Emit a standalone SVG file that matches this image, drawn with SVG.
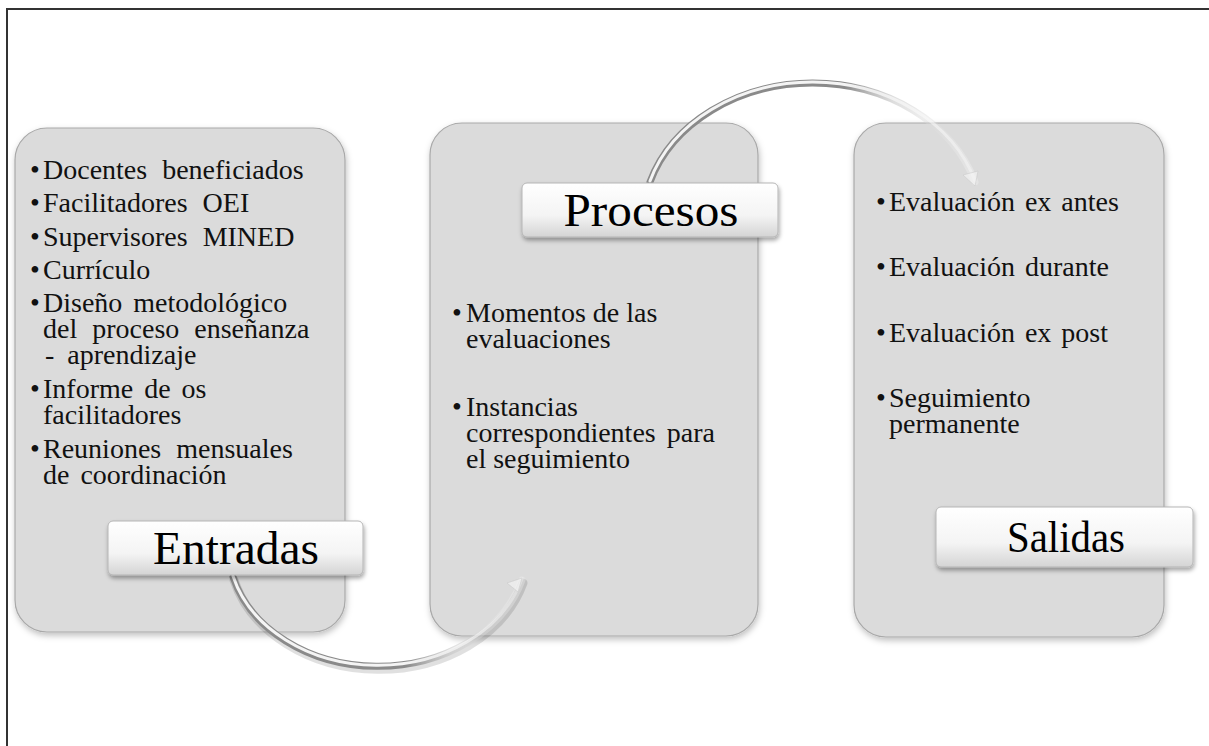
<svg xmlns="http://www.w3.org/2000/svg" width="1209" height="746" viewBox="0 0 1209 746">
<style>
.panel{fill:#dbdbdb;stroke:#a9a9a9;stroke-width:1.2}
.lbl{fill:url(#lblg);stroke:#b5b5b5;stroke-width:1}
text{font-family:"Liberation Serif","Times New Roman",serif}
.t{font-size:28px;fill:#111}
.w{word-spacing:8px}
.h{fill:#000;text-anchor:middle}
.frame{stroke:#333;stroke-width:2;fill:none}
</style>
<defs>
<linearGradient id="lblg" x1="0" y1="0" x2="0" y2="1">
<stop offset="0" stop-color="#ffffff"/>
<stop offset="0.6" stop-color="#f4f4f4"/>
<stop offset="1" stop-color="#d4d4d4"/>
</linearGradient>
<linearGradient id="fade1" x1="0" y1="0" x2="1" y2="0">
<stop offset="0" stop-color="#8a8a8a" stop-opacity="1"/>
<stop offset="0.6" stop-color="#8a8a8a" stop-opacity="1"/>
<stop offset="0.75" stop-color="#bdbdbd" stop-opacity="0.5"/>
<stop offset="1" stop-color="#ffffff" stop-opacity="0.25"/>
</linearGradient>
<linearGradient id="fade1h" x1="0" y1="0" x2="1" y2="0">
<stop offset="0" stop-color="#f4f4f4" stop-opacity="1"/>
<stop offset="0.6" stop-color="#f4f4f4" stop-opacity="1"/>
<stop offset="1" stop-color="#ffffff" stop-opacity="0.3"/>
</linearGradient>
<filter id="sh" x="-10%" y="-10%" width="125%" height="125%">
<feDropShadow dx="1" dy="3" stdDeviation="3" flood-color="#000" flood-opacity="0.25"/>
</filter>
<filter id="sh2" x="-10%" y="-20%" width="125%" height="150%">
<feDropShadow dx="1" dy="3" stdDeviation="2" flood-color="#000" flood-opacity="0.35"/>
</filter>
</defs>
<rect width="1209" height="746" fill="#fff"/>
<path class="frame" d="M7,746 V9 H1209"/>

<g id="panel-entradas">
<rect class="panel" x="15" y="128" width="330" height="504" rx="32" filter="url(#sh)"/>
<g class="t">
<text x="30" y="179">•</text><text class="w" x="43" y="179">Docentes beneficiados</text>
<text x="30" y="212">•</text><text class="w" x="43" y="212">Facilitadores OEI</text>
<text x="30" y="246">•</text><text class="w" x="43" y="246">Supervisores MINED</text>
<text x="30" y="279">•</text><text x="43" y="279">Currículo</text>
<text x="30" y="312">•</text><text x="43" y="312" word-spacing="4">Diseño metodológico</text>
<text class="w" x="43" y="338">del proceso enseñanza</text>
<text x="45" y="364" word-spacing="6">- aprendizaje</text>
<text x="30" y="398">•</text><text x="43" y="398" word-spacing="4">Informe de os</text>
<text x="43" y="424">facilitadores</text>
<text x="30" y="458">•</text><text class="w" x="43" y="458">Reuniones mensuales</text>
<text x="43" y="484" word-spacing="4">de coordinación</text>
</g>
</g>

<g id="panel-procesos">
<rect class="panel" x="430" y="123" width="328" height="513" rx="32" filter="url(#sh)"/>
<g class="t">
<text x="452" y="322">•</text><text x="466" y="322">Momentos de las</text>
<text x="466" y="348">evaluaciones</text>
<text x="452" y="416">•</text><text x="466" y="416">Instancias</text>
<text x="466" y="442" word-spacing="4">correspondientes para</text>
<text x="466" y="468">el seguimiento</text>
</g>
</g>

<g id="panel-salidas">
<rect class="panel" x="854" y="123" width="310" height="514" rx="32" filter="url(#sh)"/>
<g class="t">
<text x="876" y="211">•</text><text x="889" y="211" word-spacing="3">Evaluación ex antes</text>
<text x="876" y="276">•</text><text x="889" y="276" word-spacing="3">Evaluación durante</text>
<text x="876" y="342">•</text><text x="889" y="342" word-spacing="3">Evaluación ex post</text>
<text x="876" y="407">•</text><text x="889" y="407">Seguimiento</text>
<text x="889" y="433">permanente</text>
</g>
</g>

<g id="connectors">
<g fill="none" stroke-linecap="round">
<path d="M233,577 A150 120 0 0 0 522,580" stroke="#000" stroke-opacity="0.12" stroke-width="9" transform="translate(1,3)"/>
<path d="M233,577 A150 120 0 0 0 522,580" stroke="url(#fade1)" stroke-width="7"/>
<path d="M233,577 A150 120 0 0 0 522,580" stroke="url(#fade1h)" stroke-width="3" transform="translate(0,-1)"/>
<path d="M650,182 A170 140 0 0 1 975,182" stroke="url(#fade1)" stroke-width="7"/>
<path d="M650,182 A170 140 0 0 1 975,182" stroke="url(#fade1h)" stroke-width="3" transform="translate(0,-1)"/>
</g>
<polygon points="522,578 507,583 518,592" fill="#f5f5f5" fill-opacity="0.6" stroke="#c8c8c8" stroke-opacity="0.5"/>
<polygon points="975,186 963,175 978,171" fill="#f5f5f5" fill-opacity="0.6" stroke="#c8c8c8" stroke-opacity="0.5"/>
</g>

<g id="label-entradas">
<rect class="lbl" x="108" y="521" width="255" height="54" rx="5" filter="url(#sh2)"/>
<text class="h" x="236" y="564" font-size="46" textLength="166" lengthAdjust="spacingAndGlyphs">Entradas</text>
</g>
<g id="label-procesos">
<rect class="lbl" x="522" y="183" width="256" height="54" rx="5" filter="url(#sh2)"/>
<text class="h" x="651" y="226" font-size="46" textLength="175" lengthAdjust="spacingAndGlyphs">Procesos</text>
</g>
<g id="label-salidas">
<rect class="lbl" x="936" y="507" width="257" height="60" rx="5" filter="url(#sh2)"/>
<text class="h" x="1066" y="552" font-size="44" textLength="118" lengthAdjust="spacingAndGlyphs">Salidas</text>
</g>
</svg>
